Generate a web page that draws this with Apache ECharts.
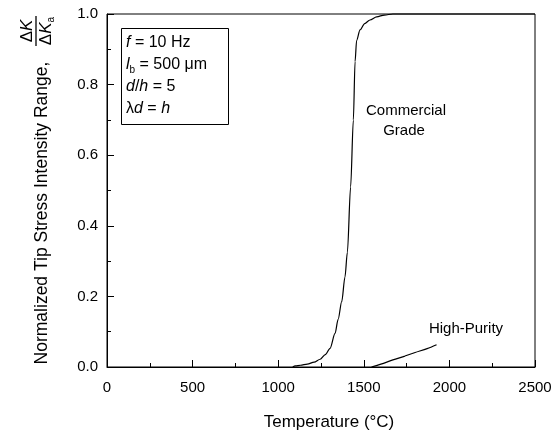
<!DOCTYPE html>
<html>
<head>
<meta charset="utf-8">
<script src="https://cdn.jsdelivr.net/npm/echarts@6/dist/echarts.min.js"></script>
<style>
html,body{margin:0;padding:0;background:#fff;}
#chart{width:559px;height:433px;}
</style>
</head>
<body>
<div id="chart"></div>
<script>
// Data
const xTicks = [0, 500, 1000, 1500, 2000, 2500];
const yTicks = [0.0, 0.2, 0.4, 0.6, 0.8, 1.0];

const commercialT = [1085, 1100, 1130, 1170, 1210, 1245, 1275, 1303, 1332, 1350, 1371, 1390, 1404, 1423, 1439, 1449, 1458, 1478, 1505, 1536, 1575, 1620, 1670, 2500];
const commercialK = [0.000, 0.003, 0.005, 0.008, 0.014, 0.022, 0.035, 0.053, 0.095, 0.135, 0.185, 0.255, 0.325, 0.510, 0.700, 0.865, 0.925, 0.955, 0.973, 0.983, 0.992, 0.997, 1.000, 1.000];

const highPurityT = [1545, 1600, 1670, 1740, 1800, 1870, 1925];
const highPurityK = [0.000, 0.008, 0.020, 0.031, 0.041, 0.052, 0.063];

const xAxisTitle = 'Temperature (°C)';
const yAxisTitle = 'Normalized Tip Stress Intensity Range,';
const curveLabels = { commercial: ['Commercial', 'Grade'], highPurity: 'High-Purity' };

const FONT = 'Liberation Sans, Arial, sans-serif';

const chart = echarts.init(document.getElementById('chart'));

const zip = (a, b) => a.map((v, i) => [v, b[i]]);

const option = {
  backgroundColor: '#fff',
  animation: false,
  grid: {
    left: 107, right: 24, top: 14, bottom: 66,
    show: true, borderColor: '#000', borderWidth: 1, backgroundColor: 'transparent'
  },
  xAxis: {
    type: 'value', min: 0, max: 2500, interval: 500,
    axisLine: { show: true, lineStyle: { color: '#000', width: 1 } },
    axisTick: { show: true, inside: true, length: 7, lineStyle: { color: '#000' } },
    minorTick: { show: true, splitNumber: 2, length: 4, lineStyle: { color: '#000' } },
    splitLine: { show: false },
    axisLabel: { margin: 13, fontFamily: FONT, fontSize: 15, color: '#000',
      formatter: v => xTicks.includes(v) ? String(v) : '' }
  },
  yAxis: {
    type: 'value', min: 0, max: 1, interval: 0.2,
    axisLine: { show: true, lineStyle: { color: '#000', width: 1 } },
    axisTick: { show: true, inside: true, length: 7, lineStyle: { color: '#000' } },
    minorTick: { show: true, splitNumber: 2, length: 4, lineStyle: { color: '#000' } },
    splitLine: { show: false },
    axisLabel: { margin: 9, fontFamily: FONT, fontSize: 15, color: '#000',
      formatter: v => {
        const t = yTicks.find(y => Math.abs(y - v) < 1e-9);
        return t === undefined ? '' : t.toFixed(1);
      } }
  },
  series: [
    {
      type: 'line', name: 'Commercial Grade', data: zip(commercialT, commercialK),
      showSymbol: false, smooth: 0.3, smoothMonotone: 'x', clip: false,
      lineStyle: { color: '#000', width: 1.2 }
    },
    {
      type: 'line', name: 'High-Purity', data: zip(highPurityT, highPurityK),
      showSymbol: false, smooth: 0.3, clip: false,
      lineStyle: { color: '#000', width: 1.2 }
    }
  ],
  graphic: [
    // x-axis title
    {
      type: 'text', x: 329, y: 422,
      style: { text: xAxisTitle, font: '17px ' + FONT, fill: '#000', align: 'center', verticalAlign: 'middle' }
    },
    // y-axis title (rotated)
    {
      type: 'text', x: 42, y: 213, rotation: Math.PI / 2,
      style: { text: yAxisTitle, font: '17.5px ' + FONT, fill: '#000', align: 'center', verticalAlign: 'middle' }
    },
    // fraction ΔK / ΔKa
    {
      type: 'group', x: 36, y: 31, rotation: Math.PI / 2,
      children: [
        { type: 'text', x: 0, y: -9,
          style: { text: 'Δ{i|K}', fill: '#000', font: '17px ' + FONT, align: 'center', verticalAlign: 'middle',
            rich: { i: { fontStyle: 'italic', fontSize: 17, fontFamily: FONT } } } },
        { type: 'line', shape: { x1: -15, y1: 0, x2: 15, y2: 0 }, style: { stroke: '#000', lineWidth: 1.3 } },
        { type: 'text', x: 0, y: 10,
          style: { text: 'Δ{i|K}{s|a}', fill: '#000', font: '17px ' + FONT, align: 'center', verticalAlign: 'middle',
            rich: { i: { fontStyle: 'italic', fontSize: 17, fontFamily: FONT, lineHeight: 20 },
                    s: { fontSize: 10, fontFamily: FONT, verticalAlign: 'bottom', lineHeight: 20 } } } }
      ]
    },
    // parameter box
    {
      type: 'rect', shape: { x: 121.5, y: 28.5, width: 107, height: 96 },
      style: { fill: '#fff', stroke: '#000', lineWidth: 1 }, z: 100
    },
    {
      type: 'text', x: 126, y: 43, z: 101,
      style: { text: '{i|f} = 10 Hz', font: '16px ' + FONT, fill: '#000', verticalAlign: 'middle',
        rich: { i: { fontStyle: 'italic', fontSize: 16, fontFamily: FONT } } }
    },
    {
      type: 'text', x: 126, y: 65, z: 101,
      style: { text: '{i|l}{s|b} = 500 μm', font: '16px ' + FONT, fill: '#000', verticalAlign: 'middle',
        rich: { i: { fontStyle: 'italic', fontSize: 16, fontFamily: FONT, lineHeight: 20 },
                s: { fontSize: 10, fontFamily: FONT, verticalAlign: 'bottom', lineHeight: 20 } } }
    },
    {
      type: 'text', x: 126, y: 87, z: 101,
      style: { text: '{i|d}/{i|h} = 5', font: '16px ' + FONT, fill: '#000', verticalAlign: 'middle',
        rich: { i: { fontStyle: 'italic', fontSize: 16, fontFamily: FONT } } }
    },
    {
      type: 'text', x: 126, y: 109, z: 101,
      style: { text: 'λ{i|d} = {i|h}', font: '16px ' + FONT, fill: '#000', verticalAlign: 'middle',
        rich: { i: { fontStyle: 'italic', fontSize: 16, fontFamily: FONT } } }
    },
    // curve labels
    {
      type: 'text', x: 406, y: 111,
      style: { text: curveLabels.commercial[0], font: '15px ' + FONT, fill: '#000', align: 'center', verticalAlign: 'middle' }
    },
    {
      type: 'text', x: 404, y: 131,
      style: { text: curveLabels.commercial[1], font: '15px ' + FONT, fill: '#000', align: 'center', verticalAlign: 'middle' }
    },
    {
      type: 'text', x: 466, y: 329,
      style: { text: curveLabels.highPurity, font: '15px ' + FONT, fill: '#000', align: 'center', verticalAlign: 'middle' }
    }
  ]
};

chart.setOption(option);
</script>
</body>
</html>
